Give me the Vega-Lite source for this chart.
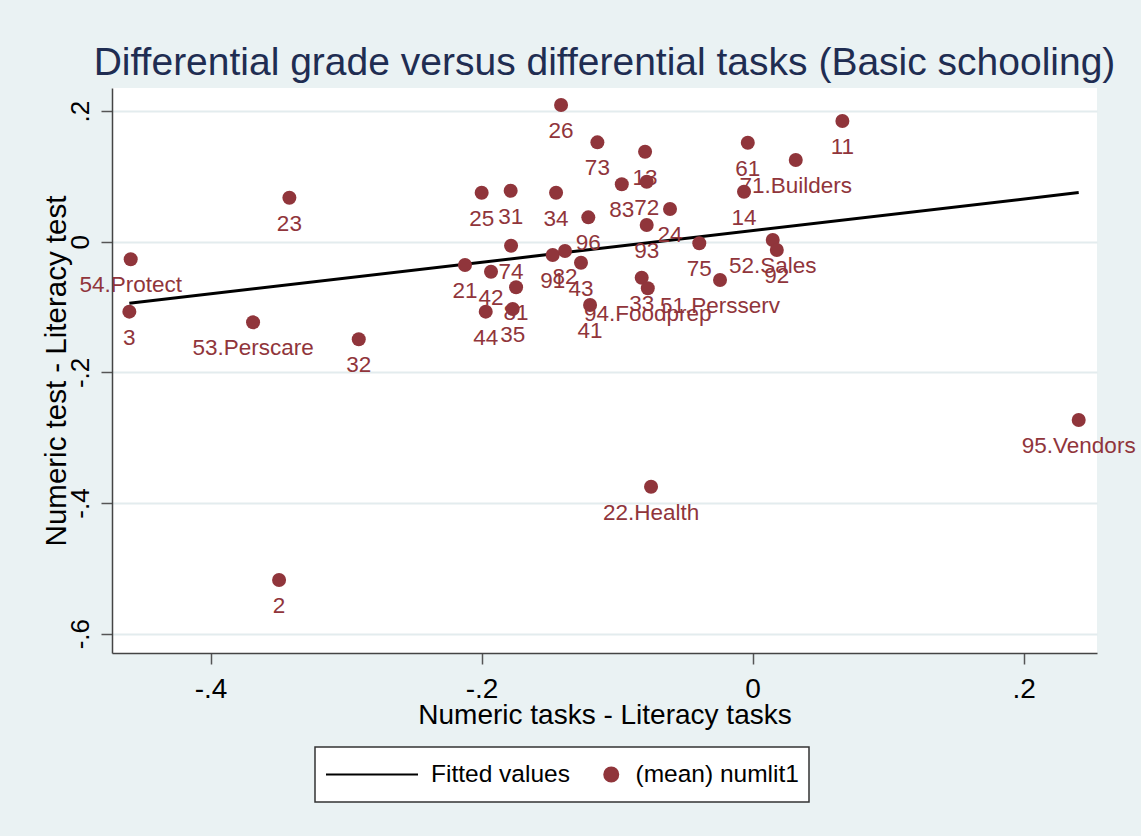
{
  "$schema": "https://vega.github.io/schema/vega-lite/v6.json",
  "width": 985,
  "height": 565,
  "autosize": {"type": "none"},
  "padding": {"left": 112, "top": 88, "right": 44, "bottom": 183},
  "background": "#EAF2F3",
  "title": {
    "text": "Differential grade versus differential tasks (Basic schooling)",
    "fontSize": 39,
    "font": "Liberation Sans",
    "fontWeight": "normal",
    "color": "#1F2D52",
    "anchor": "middle",
    "frame": "group",
    "baseline": "alphabetic",
    "offset": 13,
    "dy": 39
  },
  "config": {
    "view": {"fill": "#FFFFFF", "stroke": null},
    "font": "Liberation Sans"
  },
  "datasets": {
    "fit": [
      {"x": -0.4599, "y": -0.0943, "series": "Fitted values"},
      {"x": 0.2407, "y": 0.0752, "series": "Fitted values"}
    ],
    "pts": [
      {"label": "26", "x": -0.1413, "y": 0.2092, "series": "(mean) numlit1"},
      {"label": "73", "x": -0.1145, "y": 0.1521, "series": "(mean) numlit1"},
      {"label": "13", "x": -0.0793, "y": 0.1378, "series": "(mean) numlit1"},
      {"label": "61", "x": -0.0035, "y": 0.1515, "series": "(mean) numlit1"},
      {"label": "11", "x": 0.0663, "y": 0.1848, "series": "(mean) numlit1"},
      {"label": "71.Builders", "x": 0.0319, "y": 0.1251, "series": "(mean) numlit1"},
      {"label": "14", "x": -0.0063, "y": 0.0765, "series": "(mean) numlit1"},
      {"label": "83", "x": -0.0965, "y": 0.0879, "series": "(mean) numlit1"},
      {"label": "72", "x": -0.0781, "y": 0.0918, "series": "(mean) numlit1"},
      {"label": "24", "x": -0.0609, "y": 0.0501, "series": "(mean) numlit1"},
      {"label": "25", "x": -0.1999, "y": 0.0750, "series": "(mean) numlit1"},
      {"label": "31", "x": -0.1785, "y": 0.0781, "series": "(mean) numlit1"},
      {"label": "34", "x": -0.1450, "y": 0.0750, "series": "(mean) numlit1"},
      {"label": "96", "x": -0.1212, "y": 0.0373, "series": "(mean) numlit1"},
      {"label": "93", "x": -0.0781, "y": 0.0256, "series": "(mean) numlit1"},
      {"label": "23", "x": -0.3418, "y": 0.0673, "series": "(mean) numlit1"},
      {"label": "54.Protect", "x": -0.4589, "y": -0.0269, "series": "(mean) numlit1"},
      {"label": "3", "x": -0.4599, "y": -0.1071, "series": "(mean) numlit1"},
      {"label": "53.Perscare", "x": -0.3686, "y": -0.1234, "series": "(mean) numlit1"},
      {"label": "32", "x": -0.2906, "y": -0.1494, "series": "(mean) numlit1"},
      {"label": "2", "x": -0.3494, "y": -0.5178, "series": "(mean) numlit1"},
      {"label": "22.Health", "x": -0.0749, "y": -0.3750, "series": "(mean) numlit1"},
      {"label": "95.Vendors", "x": 0.2407, "y": -0.2729, "series": "(mean) numlit1"},
      {"label": "21", "x": -0.2122, "y": -0.0357, "series": "(mean) numlit1"},
      {"label": "74", "x": -0.1782, "y": -0.0061, "series": "(mean) numlit1"},
      {"label": "42", "x": -0.1930, "y": -0.0459, "series": "(mean) numlit1"},
      {"label": "81", "x": -0.1745, "y": -0.0698, "series": "(mean) numlit1"},
      {"label": "44", "x": -0.1969, "y": -0.1071, "series": "(mean) numlit1"},
      {"label": "35", "x": -0.1770, "y": -0.1030, "series": "(mean) numlit1"},
      {"label": "91", "x": -0.1475, "y": -0.0204, "series": "(mean) numlit1"},
      {"label": "82", "x": -0.1384, "y": -0.0142, "series": "(mean) numlit1"},
      {"label": "43", "x": -0.1266, "y": -0.0321, "series": "(mean) numlit1"},
      {"label": "41", "x": -0.1199, "y": -0.0969, "series": "(mean) numlit1"},
      {"label": "33", "x": -0.0818, "y": -0.0551, "series": "(mean) numlit1"},
      {"label": "94.Foodprep", "x": -0.0773, "y": -0.0713, "series": "(mean) numlit1"},
      {"label": "51.Persserv", "x": -0.0240, "y": -0.0586, "series": "(mean) numlit1"},
      {"label": "52.Sales", "x": 0.0149, "y": 0.0026, "series": "(mean) numlit1"},
      {"label": "92", "x": 0.0179, "y": -0.0127, "series": "(mean) numlit1"},
      {"label": "75", "x": -0.0393, "y": -0.0024, "series": "(mean) numlit1"}
    ]
  },
  "layer": [
    {
      "data": {"name": "fit"},
      "mark": {"type": "line", "strokeWidth": 3},
      "encoding": {
        "x": {
          "field": "x",
          "type": "quantitative",
          "scale": {"domain": [-0.4727, 0.2542], "nice": false, "zero": false},
          "axis": {
            "title": "Numeric tasks - Literacy tasks",
            "values": [-0.4, -0.2, 0, 0.2],
            "labelExpr": "datum.value == 0 ? '0' : (datum.value < 0 ? '-' : '') + '.' + format(abs(datum.value) * 10, '.0f')",
            "grid": false,
            "domainColor": "#444444",
            "domainWidth": 1.5,
            "tickColor": "#555555",
            "tickWidth": 1.5,
            "tickSize": 11,
            "labelFontSize": 28,
            "labelColor": "#000000",
            "labelPadding": 11,
            "labelFlush": false,
            "labelOverlap": false,
            "titleFontSize": 28,
            "titleFontWeight": "normal",
            "titleColor": "#000000",
            "titleBaseline": "alphabetic",
            "titleX": 492.5,
            "titleY": 70
          }
        },
        "y": {
          "field": "y",
          "type": "quantitative",
          "scale": {"domain": [-0.6296, 0.2353], "nice": false, "zero": false},
          "axis": {
            "title": "Numeric test - Literacy test",
            "values": [-0.6, -0.4, -0.2, 0, 0.2],
            "labelExpr": "datum.value == 0 ? '0' : (datum.value < 0 ? '-' : '') + '.' + format(abs(datum.value) * 10, '.0f')",
            "grid": true,
            "gridColor": "#E3ECEE",
            "gridWidth": 2,
            "domainColor": "#444444",
            "domainWidth": 1.5,
            "tickColor": "#555555",
            "tickWidth": 1.5,
            "tickSize": 11,
            "labelAngle": 270,
            "labelAlign": "center",
            "labelBaseline": "alphabetic",
            "labelFontSize": 26,
            "labelColor": "#000000",
            "labelPadding": 13,
            "labelFlush": false,
            "labelOverlap": false,
            "titleFontSize": 29.5,
            "titleFontWeight": "normal",
            "titleColor": "#000000",
            "titleAngle": 270,
            "titleBaseline": "alphabetic",
            "titleX": -47,
            "titleY": 282.5
          }
        },
        "color": {
          "field": "series",
          "type": "nominal",
          "scale": {"domain": ["Fitted values", "(mean) numlit1"], "range": ["#000000", "#90353B"]},
          "legend": {
            "title": null,
            "orient": "none",
            "legendX": 203,
            "legendY": 659,
            "direction": "horizontal",
            "padding": 10,
            "strokeColor": "#333333",
            "fillColor": "#FFFFFF",
            "labelFontSize": 24.5,
            "labelColor": "#000000",
            "labelOffset": 12,
            "labelLimit": 400,
            "columnPadding": 29,
            "clipHeight": 35,
            "encode": {
              "symbols": {
                "update": {
                  "shape": {"signal": "datum.value === 'Fitted values' ? 'stroke' : 'circle'"},
                  "fill": {"signal": "datum.value === 'Fitted values' ? 'transparent' : '#90353B'"},
                  "stroke": {"signal": "datum.value === 'Fitted values' ? '#000000' : 'transparent'"},
                  "strokeWidth": {"value": 2},
                  "opacity": {"value": 1}
                }
              },
              "legend": {"update": {"strokeWidth": {"value": 1.5}}}
            }
          }
        }
      }
    },
    {
      "data": {"name": "pts"},
      "mark": {"type": "point", "filled": true, "opacity": 1, "shape": "circle"},
      "encoding": {
        "x": {"field": "x", "type": "quantitative", "scale": {"domain": [-0.4727, 0.2542], "nice": false, "zero": false}},
        "y": {"field": "y", "type": "quantitative", "scale": {"domain": [-0.6296, 0.2353], "nice": false, "zero": false}},
        "color": {"field": "series", "type": "nominal", "scale": {"domain": ["Fitted values", "(mean) numlit1"], "range": ["#000000", "#90353B"]}},
        "size": {"field": "series", "type": "nominal", "scale": {"type": "ordinal", "domain": ["Fitted values", "(mean) numlit1"], "range": [8464, 196]}}
      }
    },
    {
      "data": {"name": "pts"},
      "mark": {"type": "text", "dy": 26, "fontSize": 22.5, "color": "#90353B", "baseline": "middle", "align": "center"},
      "encoding": {
        "x": {"field": "x", "type": "quantitative"},
        "y": {"field": "y", "type": "quantitative"},
        "text": {"field": "label", "type": "nominal"}
      }
    }
  ]
}
